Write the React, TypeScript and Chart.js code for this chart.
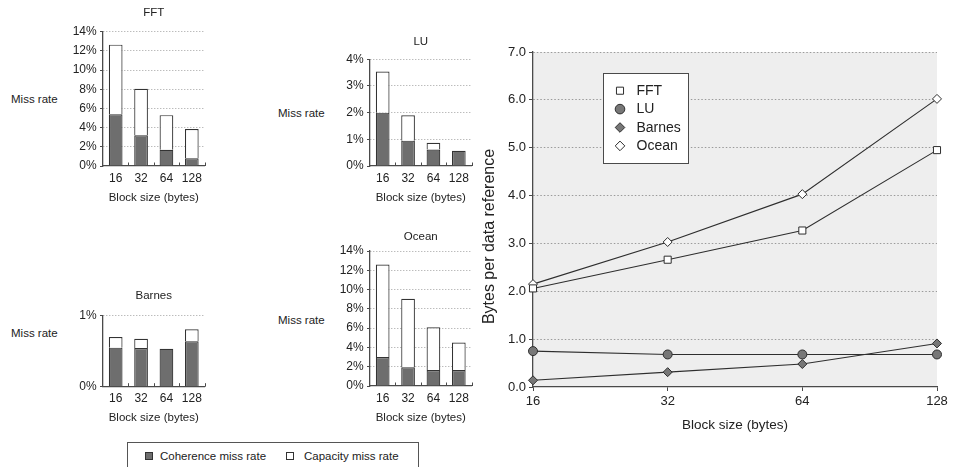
import React, { useEffect, useRef } from 'react';
import { Chart, registerables } from 'chart.js';

Chart.register(...registerables);

const FONT = "'Liberation Sans', Arial, Helvetica, sans-serif";
Chart.defaults.font.family = FONT;
Chart.defaults.color = '#222';

// ---------- Data ----------
const blockSizes = ['16', '32', '64', '128'];

const fftCoherence = [5.4, 3.2, 1.7, 0.8];
const fftCapacity = [7.25, 4.85, 3.6, 3.05];
const luCoherence = [2.0, 0.95, 0.62, 0.57];
const luCapacity = [1.54, 0.95, 0.25, 0];
const barnesCoherence = [0.55, 0.545, 0.535, 0.64];
const barnesCapacity = [0.15, 0.13, 0, 0.17];
const oceanCoherence = [3.0, 1.95, 1.65, 1.65];
const oceanCapacity = [9.6, 7.1, 4.45, 2.85];

const fftBytes = [2.06, 2.66, 3.27, 4.95];
const luBytes = [0.75, 0.68, 0.68, 0.68];
const barnesBytes = [0.14, 0.31, 0.48, 0.91];
const oceanBytes = [2.15, 3.03, 4.03, 6.02];

const missRateLabel = 'Miss rate';
const blockSizeTitle = 'Block size (bytes)';
const bytesTitle = 'Bytes per data reference';
const legendCoherence = 'Coherence miss rate';
const legendCapacity = 'Capacity miss rate';

// ---------- Styles ----------
const AXIS = '#4a4a4a';
const GRID = '#a0a0a0';
const DARK = '#6e6e6e';
const EDGE = '#333';
const SMALL = 11.5;
const SMALL_TICK = 12;

// ---------- Plugins ----------
const innerTicks = {
  id: 'innerTicks',
  afterDraw(chart: any) {
    const x = chart.scales.x;
    const y0 = chart.chartArea.bottom;
    const ctx = chart.ctx;
    ctx.save();
    ctx.strokeStyle = AXIS;
    ctx.lineWidth = 1;
    ctx.beginPath();
    for (let i = 1; i <= chart.data.labels.length; i++) {
      const px = Math.round(x.getPixelForValue(i - 0.5)) + 0.5;
      ctx.moveTo(px, y0);
      ctx.lineTo(px, y0 - 3.5);
    }
    ctx.stroke();
    ctx.restore();
  },
};

const plotBg = {
  id: 'plotBg',
  beforeDraw(chart: any) {
    const { ctx, chartArea: a } = chart;
    ctx.save();
    ctx.fillStyle = '#eeeeee';
    ctx.fillRect(a.left, a.top, a.right - a.left, a.bottom - a.top);
    ctx.restore();
  },
};

function drawMarker(ctx: CanvasRenderingContext2D, style: string, x: number, y: number, r: number, fill: string, stroke: string) {
  ctx.save();
  ctx.fillStyle = fill;
  ctx.strokeStyle = stroke;
  ctx.lineWidth = 1;
  ctx.beginPath();
  if (style === 'circle') {
    ctx.arc(x, y, r, 0, Math.PI * 2);
  } else if (style === 'rect') {
    const s = r * Math.SQRT1_2;
    ctx.rect(x - s, y - s, 2 * s, 2 * s);
  } else {
    ctx.moveTo(x - r, y);
    ctx.lineTo(x, y - r);
    ctx.lineTo(x + r, y);
    ctx.lineTo(x, y + r);
    ctx.closePath();
  }
  ctx.fill();
  ctx.stroke();
  ctx.restore();
}

const boxLegend = {
  id: 'boxLegend',
  afterDraw(chart: any, _args: any, opts: any) {
    const { ctx, chartArea: a } = chart;
    const x0 = a.left + opts.dx;
    const y0 = a.top + opts.dy;
    ctx.save();
    ctx.fillStyle = '#fff';
    ctx.fillRect(x0, y0, opts.w, opts.h);
    ctx.strokeStyle = AXIS;
    ctx.lineWidth = 1;
    ctx.strokeRect(Math.round(x0) + 0.5, Math.round(y0) + 0.5, opts.w, opts.h);
    chart.data.datasets.forEach((ds: any, i: number) => {
      const cy = y0 + opts.first + i * opts.step;
      drawMarker(ctx, ds.pointStyle, x0 + 17, cy, ds.pointStyle === 'rect' ? 5 : 4.8, ds.pointBackgroundColor, ds.pointBorderColor);
      ctx.fillStyle = '#222';
      ctx.font = `14px ${FONT}`;
      ctx.textBaseline = 'middle';
      ctx.textAlign = 'left';
      ctx.fillText(ds.label, x0 + 33.5, cy + 0.5);
    });
    ctx.restore();
  },
};

const yTitle = {
  id: 'yTitle',
  afterDraw(chart: any, _args: any, opts: any) {
    const ctx = chart.ctx;
    ctx.save();
    ctx.translate(opts.x, opts.y);
    ctx.rotate(-Math.PI / 2);
    ctx.font = `16px ${FONT}`;
    ctx.fillStyle = '#222';
    ctx.textAlign = 'center';
    ctx.textBaseline = 'middle';
    ctx.fillText(opts.text, 0, 0);
    ctx.restore();
  },
};

// ---------- Configs ----------
type BarParams = {
  title: string;
  coherence: number[];
  capacity: number[];
  max: number;
  step: number;
  titleTop: number;
  titleBottom: number;
  xHeight: number;
  tickPad: number;
  xTitleBottom: number;
};

function barConfig(p: BarParams): any {
  return {
    type: 'bar',
    data: {
      labels: blockSizes,
      datasets: [
        {
          label: legendCoherence,
          data: p.coherence,
          backgroundColor: DARK,
          borderColor: EDGE,
          borderWidth: 1.2,
          barPercentage: 0.54,
          categoryPercentage: 1,
        },
        {
          label: legendCapacity,
          data: p.capacity,
          backgroundColor: '#ffffff',
          borderColor: EDGE,
          borderWidth: 1.2,
          barPercentage: 0.54,
          categoryPercentage: 1,
        },
      ],
    },
    options: {
      animation: false,
      responsive: false,
      maintainAspectRatio: false,
      events: [],
      layout: { padding: { left: 0, right: 7.5, top: 0, bottom: 0 } },
      plugins: {
        legend: { display: false },
        tooltip: { enabled: false },
        title: {
          display: true,
          fullSize: false,
          text: p.title,
          color: '#222',
          font: { size: SMALL, weight: 'normal', lineHeight: 1.2 },
          padding: { top: p.titleTop, bottom: p.titleBottom },
        },
      },
      scales: {
        x: {
          stacked: true,
          grid: { display: false, drawTicks: false },
          border: { display: true, color: AXIS, width: 1.3 },
          ticks: { font: { size: SMALL_TICK }, color: '#222', padding: p.tickPad, maxRotation: 0 },
          title: {
            display: true,
            text: blockSizeTitle,
            color: '#222',
            font: { size: SMALL },
            padding: { top: 0, bottom: p.xTitleBottom },
          },
          afterFit: (s: any) => {
            s.height = p.xHeight;
          },
        },
        y: {
          stacked: true,
          min: 0,
          max: p.max,
          ticks: {
            stepSize: p.step,
            font: { size: SMALL_TICK },
            color: '#222',
            padding: 3.3,
            callback: (v: any) => `${v}%`,
          },
          grid: {
            color: (c: any) => (c.tick && c.tick.value === 0 ? 'rgba(0,0,0,0)' : GRID),
            lineWidth: 1,
            tickLength: 3,
            tickColor: AXIS,
          },
          border: { display: true, color: AXIS, width: 1.3, dash: [1, 2] },
          afterFit: (s: any) => {
            s.width = 41;
          },
        },
      },
    },
    plugins: [innerTicks],
  };
}

function lineConfig(): any {
  const common = {
    borderColor: '#2e2e2e',
    borderWidth: 1.1,
    pointBorderColor: '#2e2e2e',
    pointBorderWidth: 1,
    pointRadius: 4.5,
    fill: false,
    tension: 0,
    clip: false,
  };
  return {
    type: 'line',
    data: {
      labels: blockSizes,
      datasets: [
        { ...common, label: 'FFT', data: fftBytes, pointStyle: 'rect', pointRadius: 5, pointBackgroundColor: '#ffffff' },
        { ...common, label: 'LU', data: luBytes, pointStyle: 'circle', pointBackgroundColor: '#777777' },
        { ...common, label: 'Barnes', data: barnesBytes, pointStyle: 'rectRot', pointBackgroundColor: '#777777' },
        { ...common, label: 'Ocean', data: oceanBytes, pointStyle: 'rectRot', pointBackgroundColor: '#ffffff' },
      ],
    },
    options: {
      animation: false,
      responsive: false,
      maintainAspectRatio: false,
      events: [],
      layout: { padding: { left: 0, right: 16, top: 52, bottom: 0 } },
      plugins: {
        legend: { display: false },
        tooltip: { enabled: false },
        boxLegend: { dx: 70, dy: 21, w: 85, h: 90, first: 17.7, step: 18.4 },
        yTitle: { text: bytesTitle, x: 20, y: 236.5 },
      },
      scales: {
        x: {
          type: 'category',
          offset: false,
          grid: { display: true, drawOnChartArea: false, drawTicks: true, tickLength: 4, tickColor: AXIS },
          border: { display: true, color: AXIS, width: 1.3 },
          ticks: { font: { size: 13 }, color: '#222', padding: 3, maxRotation: 0 },
          title: {
            display: true,
            text: blockSizeTitle,
            color: '#222',
            font: { size: 13.5 },
            padding: { top: 0, bottom: 34 },
          },
          afterFit: (s: any) => {
            s.height = 80;
          },
        },
        y: {
          min: 0,
          max: 7,
          ticks: {
            stepSize: 1,
            font: { size: 13 },
            color: '#222',
            padding: 3,
            callback: (v: any) => Number(v).toFixed(1),
          },
          grid: {
            color: (c: any) => (c.tick && c.tick.value === 0 ? 'rgba(0,0,0,0)' : '#9a9a9a'),
            lineWidth: 1,
            tickLength: 4,
            tickColor: AXIS,
          },
          border: { display: true, color: AXIS, width: 1.3, dash: [1.5, 2] },
          afterFit: (s: any) => {
            s.width = 63;
          },
        },
      },
    },
    plugins: [plotBg, boxLegend, yTitle],
  };
}

// ---------- Components ----------
function ChartCanvas(props: { make: () => any; left: number; top: number; width: number; height: number }) {
  const ref = useRef<HTMLCanvasElement>(null);
  useEffect(() => {
    const chart = new Chart(ref.current as HTMLCanvasElement, props.make());
    return () => chart.destroy();
  }, []);
  return (
    <canvas
      ref={ref}
      width={props.width}
      height={props.height}
      style={{ position: 'absolute', left: props.left, top: props.top, width: props.width, height: props.height }}
    />
  );
}

function SideLabel(props: { x: number; y: number; text: string }) {
  return (
    <div
      style={{
        position: 'absolute',
        left: props.x,
        top: props.y - 7,
        height: 14,
        lineHeight: '14px',
        fontSize: SMALL,
        whiteSpace: 'nowrap',
      }}
    >
      {props.text}
    </div>
  );
}

export default function App() {
  return (
    <div
      style={{
        position: 'absolute',
        left: 0,
        top: 0,
        width: 953,
        height: 467,
        overflow: 'hidden',
        background: '#fff',
        fontFamily: FONT,
        color: '#222',
      }}
    >
      <SideLabel x={11} y={99} text={missRateLabel} />
      <SideLabel x={278} y={113} text={missRateLabel} />
      <SideLabel x={11} y={333} text={missRateLabel} />
      <SideLabel x={278} y={320} text={missRateLabel} />

      <ChartCanvas
        left={62}
        top={0}
        width={150}
        height={210}
        make={() =>
          barConfig({
            title: 'FFT',
            coherence: fftCoherence,
            capacity: fftCapacity,
            max: 14,
            step: 2,
            titleTop: 5.6,
            titleBottom: 12.3,
            xHeight: 44,
            tickPad: 5.1,
            xTitleBottom: 5.6,
          })
        }
      />
      <ChartCanvas
        left={329}
        top={0}
        width={150}
        height={210}
        make={() =>
          barConfig({
            title: 'LU',
            coherence: luCoherence,
            capacity: luCapacity,
            max: 4,
            step: 1,
            titleTop: 35.1,
            titleBottom: 10.4,
            xHeight: 44,
            tickPad: 5.1,
            xTitleBottom: 5.6,
          })
        }
      />
      <ChartCanvas
        left={62}
        top={270}
        width={150}
        height={160}
        make={() =>
          barConfig({
            title: 'Barnes',
            coherence: barnesCoherence,
            capacity: barnesCapacity,
            max: 1,
            step: 1,
            titleTop: 19.1,
            titleBottom: 12.8,
            xHeight: 43.3,
            tickPad: 4.7,
            xTitleBottom: 4.8,
          })
        }
      />
      <ChartCanvas
        left={329}
        top={220}
        width={150}
        height={210}
        make={() =>
          barConfig({
            title: 'Ocean',
            coherence: oceanCoherence,
            capacity: oceanCapacity,
            max: 14,
            step: 2,
            titleTop: 10.1,
            titleBottom: 7.1,
            xHeight: 44,
            tickPad: 5.5,
            xTitleBottom: 4.8,
          })
        }
      />
      <ChartCanvas left={470} top={0} width={483} height={467} make={lineConfig} />

      <div
        style={{
          position: 'absolute',
          left: 127,
          top: 442,
          width: 292,
          height: 40,
          border: '1px solid #555',
          boxSizing: 'border-box',
          fontSize: SMALL,
        }}
      >
        <div
          style={{
            position: 'absolute',
            left: 17,
            top: 9,
            width: 8,
            height: 8,
            boxSizing: 'border-box',
            background: DARK,
            border: `1px solid ${EDGE}`,
          }}
        />
        <div style={{ position: 'absolute', left: 32, top: 6, lineHeight: '14px', whiteSpace: 'nowrap' }}>
          {legendCoherence}
        </div>
        <div
          style={{
            position: 'absolute',
            left: 158,
            top: 9,
            width: 8,
            height: 8,
            boxSizing: 'border-box',
            background: '#fff',
            border: `1px solid ${EDGE}`,
          }}
        />
        <div style={{ position: 'absolute', left: 176, top: 6, lineHeight: '14px', whiteSpace: 'nowrap' }}>
          {legendCapacity}
        </div>
      </div>
    </div>
  );
}
